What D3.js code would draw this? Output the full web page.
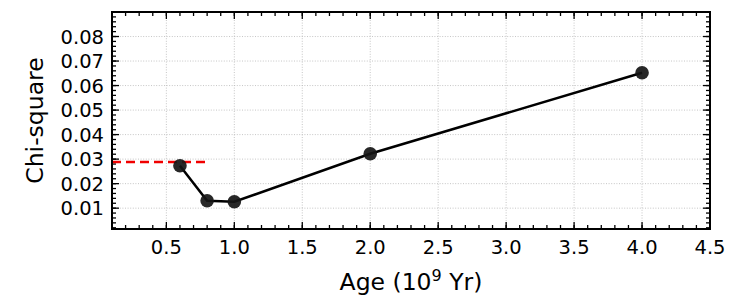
<!DOCTYPE html>
<html><head><meta charset="utf-8">
<script src="https://cdn.jsdelivr.net/npm/d3@7"></script>
<style>body{margin:0;background:#fff}svg{display:block}text{font-family:"DejaVu Sans",sans-serif;fill:#000}</style>
</head><body>
<script>
const ages = [0.6, 0.8, 1.0, 2.0, 4.0];
const chiSquare = [0.0273, 0.0130, 0.0126, 0.0322, 0.0652];
const threshold = 0.0288;
const thresholdRange = [0.1, 0.785];
const xTicks = [0.5, 1.0, 1.5, 2.0, 2.5, 3.0, 3.5, 4.0, 4.5];
const yTicks = [0.01, 0.02, 0.03, 0.04, 0.05, 0.06, 0.07, 0.08];
const xDomain = [0.1, 4.5];
const yDomain = [0.0015, 0.090];

const W = 747, H = 299;
const m = {l:112, r:37, t:12, b:70};
const svg = d3.select("body").append("svg").attr("width", W).attr("height", H);
const x = d3.scaleLinear().domain(xDomain).range([m.l, W - m.r]);
const y = d3.scaleLinear().domain(yDomain).range([H - m.b, m.t]);
const x0 = m.l, x1 = W - m.r, y0 = H - m.b, y1 = m.t;

// grid
const g = svg.append("g");
g.selectAll(".gx").data(xTicks.filter(t => t < 4.5)).join("line")
  .attr("x1", d => x(d)).attr("x2", d => x(d)).attr("y1", y0).attr("y2", y1)
  .attr("stroke", "#b8b8b8").attr("stroke-width", 0.8).attr("stroke-dasharray", "1,1.6");
g.selectAll(".gy").data(yTicks).join("line")
  .attr("y1", d => y(d)).attr("y2", d => y(d)).attr("x1", x0).attr("x2", x1)
  .attr("stroke", "#b8b8b8").attr("stroke-width", 0.8).attr("stroke-dasharray", "1,1.6");

// ticks (inward, all four sides)
const xMinor = d3.range(0.2, 4.5, 0.1).map(v => +v.toFixed(2));
const yMinor = d3.range(0.002, 0.09, 0.002).map(v => +v.toFixed(4));
const tk = svg.append("g").attr("stroke", "#000").attr("stroke-width", 1.3);
function xt(vals, len) {
  vals.forEach(v => {
    tk.append("line").attr("x1", x(v)).attr("x2", x(v)).attr("y1", y0).attr("y2", y0 - len);
    tk.append("line").attr("x1", x(v)).attr("x2", x(v)).attr("y1", y1).attr("y2", y1 + len);
  });
}
function yt(vals, len) {
  vals.forEach(v => {
    tk.append("line").attr("y1", y(v)).attr("y2", y(v)).attr("x1", x0).attr("x2", x0 + len);
    tk.append("line").attr("y1", y(v)).attr("y2", y(v)).attr("x1", x1).attr("x2", x1 - len);
  });
}
xt(xTicks, 7); xt(xMinor, 4);
yt(yTicks, 7); yt(yMinor, 4);

// tick labels
svg.append("g").selectAll("text").data(xTicks).join("text")
  .attr("x", d => x(d)).attr("y", y0 + 25).attr("text-anchor", "middle")
  .attr("font-size", 19.5).text(d => d.toFixed(1));
svg.append("g").selectAll("text").data(yTicks).join("text")
  .attr("x", x0 - 8).attr("y", d => y(d)).attr("dy", "0.36em").attr("text-anchor", "end")
  .attr("font-size", 19.5).text(d => d.toFixed(2));

// axis labels
const xl = svg.append("text").attr("x", (x0 + x1) / 2).attr("y", 290).attr("text-anchor", "middle")
  .attr("font-size", 23.5);
xl.append("tspan").text("Age (10");
xl.append("tspan").attr("font-size", 16).attr("dy", -9).text("9");
xl.append("tspan").attr("dy", 9).text(" Yr)");
svg.append("text").attr("transform", `translate(43,${(y0 + y1) / 2}) rotate(-90)`)
  .attr("text-anchor", "middle").attr("font-size", 23.5).text("Chi-square");

// threshold
svg.append("line").attr("x1", x(thresholdRange[0])).attr("x2", x(thresholdRange[1]))
  .attr("y1", y(threshold)).attr("y2", y(threshold))
  .attr("stroke", "#f00000").attr("stroke-width", 2.4).attr("stroke-dasharray", "9,5");

// data line + markers
const pts = ages.map((a, i) => [a, chiSquare[i]]);
svg.append("path").datum(pts)
  .attr("d", d3.line().x(d => x(d[0])).y(d => y(d[1])))
  .attr("fill", "none").attr("stroke", "#000").attr("stroke-width", 2.5);
svg.append("g").selectAll("circle").data(pts).join("circle")
  .attr("cx", d => x(d[0])).attr("cy", d => y(d[1])).attr("r", 6.8)
  .attr("fill", "#151515").attr("fill-opacity", 0.92);

// frame
svg.append("rect").attr("x", x0).attr("y", y1).attr("width", x1 - x0).attr("height", y0 - y1)
  .attr("fill", "none").attr("stroke", "#000").attr("stroke-width", 2);
</script>
</body></html>
